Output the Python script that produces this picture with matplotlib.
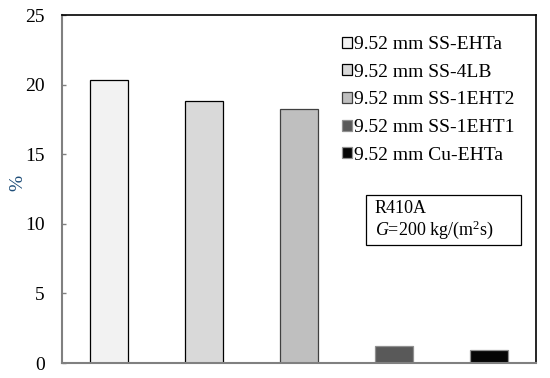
import matplotlib.pyplot as plt
import matplotlib.patches as patches
import numpy as np

plt.rcParams['font.family'] = ['Liberation Serif', 'DejaVu Serif']
plt.rcParams['mathtext.fontset'] = 'custom'
plt.rcParams['mathtext.rm'] = 'Liberation Serif'
plt.rcParams['mathtext.it'] = 'Liberation Serif:italic'

labels = ["9.52 mm SS-EHTa", "9.52 mm SS-4LB", "9.52 mm SS-1EHT2",
          "9.52 mm SS-1EHT1", "9.52 mm Cu-EHTa"]
values = [20.3, 18.8, 18.25, 1.2, 0.9]
colors = ["#f2f2f2", "#d9d9d9", "#bfbfbf", "#595959", "#050505"]
edges = ["#000000", "#000000", "#404040", "#909090", "#909090"]

fig = plt.figure(figsize=(5.5, 3.78), dpi=100)
ax = fig.add_axes([62/550, 1 - 363/378, 474/550, 348/378])

x = np.arange(len(values))
for i in range(len(values)):
    ax.bar(x[i], values[i], width=0.4, color=colors[i], edgecolor=edges[i],
           linewidth=0.9, label=labels[i])

ax.set_xlim(-0.5, 4.5)
ax.set_ylim(0, 25)
ax.set_yticks([0, 5, 10, 15, 20, 25])
ax.set_xticks([])
ax.tick_params(axis='y', labelsize=14, length=3, width=1, color='#808080',
               direction='in', pad=12.5)
ax.set_ylabel('%', fontsize=14, color='#1f4e79')
ax.yaxis.set_label_coords(-0.076, 0.517)

for s in ['left', 'bottom']:
    ax.spines[s].set_color('#808080')
    ax.spines[s].set_linewidth(1.5)
for s in ['top', 'right']:
    ax.spines[s].set_color('#000000')
    ax.spines[s].set_linewidth(1.2)

leg = ax.legend(loc='upper left', bbox_to_anchor=(280/474, 1 - 21/348),
                frameon=False, fontsize=14, handlelength=0.5, handleheight=0.5,
                handletextpad=0.1, labelspacing=0.55, borderaxespad=0,
                borderpad=0)

# condition box
box = patches.Rectangle((0.641, 0.339), 0.327, 0.144, transform=ax.transAxes,
                        facecolor='white', edgecolor='black', linewidth=0.9)
ax.add_patch(box)
ax.text(0.660, 0.409, "R410A\n$G$=200 kg/(m$^2$s)", transform=ax.transAxes,
        fontsize=13, va='center', ha='left', linespacing=1.05)

fig.savefig('out.png', dpi=100)
